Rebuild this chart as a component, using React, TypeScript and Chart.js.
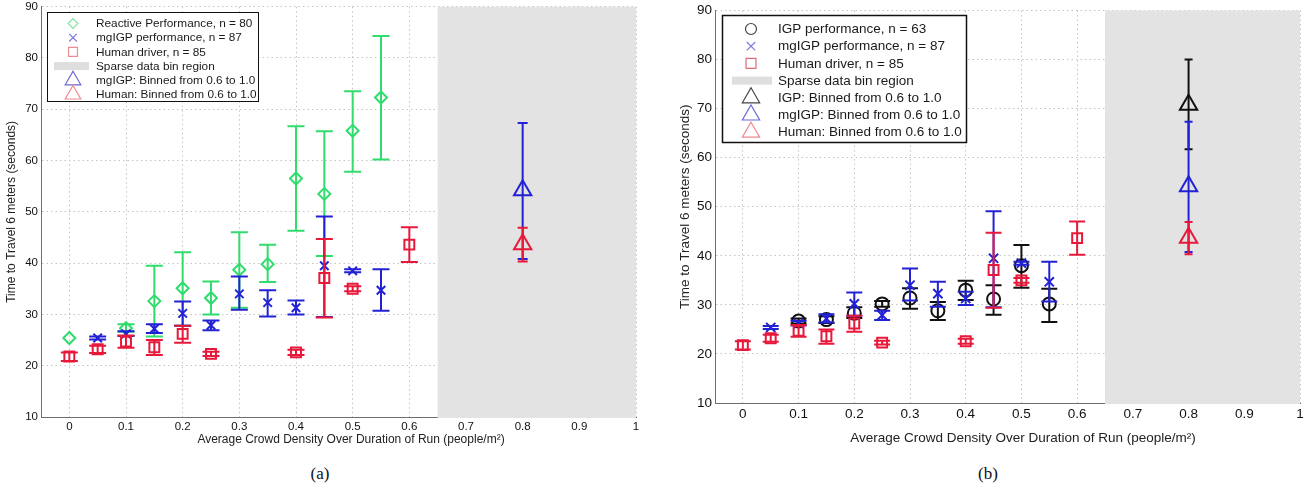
import React, { useEffect, useRef } from "react";
import { Chart, registerables } from "chart.js";

Chart.register(...registerables);

// ---------- axes ----------
const X_TICK_VALUES = [0, 0.1, 0.2, 0.3, 0.4, 0.5, 0.6, 0.7, 0.8, 0.9, 1];
const X_TICK_LABELS = ["0", "0.1", "0.2", "0.3", "0.4", "0.5", "0.6", "0.7", "0.8", "0.9", "1"];
const Y_TICK_VALUES = [10, 20, 30, 40, 50, 60, 70, 80, 90];
const X_MIN = -0.05;
const X_MAX = 1;
const Y_MIN = 10;
const Y_MAX = 90;
const SPARSE_FROM = 0.65;
const SPARSE_TO = 1.0;
const X_TITLE = "Average Crowd Density Over Duration of Run (people/m²)";
const Y_TITLE = "Time to Travel 6 meters (seconds)";

// ---------- data ----------
const REACTIVE_X = [0, 0.1, 0.15, 0.2, 0.25, 0.3, 0.35, 0.4, 0.45, 0.5, 0.55];
const REACTIVE_Y = [25.4, 27.3, 32.6, 35.1, 33.2, 38.7, 39.8, 56.5, 53.5, 65.8, 72.3];
const REACTIVE_LO = [25.4, 26.6, 25.7, 27.8, 30.0, 31.3, 36.3, 46.3, 41.4, 57.8, 60.2];
const REACTIVE_HI = [25.4, 28.1, 39.5, 42.1, 36.4, 46.0, 43.6, 66.7, 65.7, 73.5, 84.3];

const MGIGP_X = [0.05, 0.1, 0.15, 0.2, 0.25, 0.3, 0.35, 0.4, 0.45, 0.5, 0.55];
const MGIGP_Y = [25.4, 26.2, 27.2, 30.2, 27.9, 34.0, 32.3, 31.3, 39.5, 38.5, 34.7];
const MGIGP_LO = [25.1, 25.8, 26.4, 27.8, 26.9, 30.9, 29.6, 30.0, 29.5, 38.2, 30.7];
const MGIGP_HI = [25.7, 26.7, 28.1, 32.5, 28.8, 37.4, 34.7, 32.7, 49.1, 38.8, 38.8];

const HUMAN_X = [0, 0.05, 0.1, 0.15, 0.2, 0.25, 0.4, 0.45, 0.5, 0.6];
const HUMAN_Y = [21.8, 23.2, 24.7, 23.6, 26.2, 22.3, 22.6, 37.1, 35.0, 43.6];
const HUMAN_LO = [20.9, 22.5, 23.5, 22.1, 24.5, 21.9, 22.1, 29.4, 34.5, 40.2];
const HUMAN_HI = [22.6, 23.9, 25.9, 25.0, 27.8, 22.7, 23.1, 44.7, 35.5, 47.0];

const IGP_X = [0.1, 0.15, 0.2, 0.25, 0.3, 0.35, 0.4, 0.45, 0.5, 0.55];
const IGP_Y = [26.7, 27.0, 28.3, 30.2, 31.4, 28.8, 33.0, 31.2, 38.0, 30.2];
const IGP_LO = [26.2, 26.3, 27.3, 29.6, 29.2, 26.9, 31.0, 28.0, 33.5, 26.5];
const IGP_HI = [27.2, 27.7, 29.5, 30.8, 33.4, 30.6, 34.9, 34.0, 42.2, 33.3];

const BIN_X = [0.8];
const MGIGP_BIN_Y = [54.2];
const MGIGP_BIN_LO = [40.8];
const MGIGP_BIN_HI = [67.3];
const HUMAN_BIN_Y = [43.7];
const HUMAN_BIN_LO = [40.3];
const HUMAN_BIN_HI = [46.9];
const IGP_BIN_Y = [70.8];
const IGP_BIN_LO = [61.7];
const IGP_BIN_HI = [80.0];

// ---------- styles ----------
const GREEN = "#2fdc6c";
const BLUE = "#2222d4";
const RED = "#e8183a";
const BLACK = "#111111";
const SPARSE_GRAY = "#e3e3e3";
const FONT = "'Liberation Sans', Arial, Helvetica, sans-serif";

type Series = {
  x: number[]; y: number[]; lo: number[]; hi: number[];
  color: string; marker: string; radius: number; cap: number; order: number;
};
type LegendEntry = { label: string; kind: string; color: string };

type PanelCfg = {
  left: number; width: number; height: number;
  padTop: number; padRight: number;
  yAxisWidth: number; xAxisHeight: number;
  tickSize: number; titleSize: number;
  xTickPad: number; yTickPad: number; yTitlePadTop: number;
  xTitleX: number; xTitleY: number;
  legend: {
    left: number; top: number; width: number; height: number;
    row0: number; step: number; markerX: number; textX: number;
    swatch0: number; swatch1: number; fontSize: number; mScale: number; borderW: number;
  };
  series: Series[];
  entries: LegendEntry[];
};

function drawShape(ctx: CanvasRenderingContext2D, kind: string, x: number, y: number, r: number) {
  ctx.beginPath();
  if (kind === "rectRot") {
    ctx.moveTo(x - r, y); ctx.lineTo(x, y - r); ctx.lineTo(x + r, y); ctx.lineTo(x, y + r); ctx.closePath();
  } else if (kind === "crossRot") {
    const d = r * 0.7071;
    ctx.moveTo(x - d, y - d); ctx.lineTo(x + d, y + d); ctx.moveTo(x + d, y - d); ctx.lineTo(x - d, y + d);
  } else if (kind === "rect") {
    const h = r * 0.7071;
    ctx.rect(x - h, y - h, 2 * h, 2 * h);
  } else if (kind === "circle") {
    ctx.arc(x, y, r, 0, Math.PI * 2);
  } else if (kind === "triangle") {
    ctx.moveTo(x, y - r); ctx.lineTo(x + r * 0.866, y + r * 0.5); ctx.lineTo(x - r * 0.866, y + r * 0.5); ctx.closePath();
  }
  ctx.stroke();
}

const LEGEND_SIZES: Record<string, number> = { rectRot: 5.5, crossRot: 6, rect: 7, circle: 5.5, triangle: 10 };

function Panel({ cfg }: { cfg: PanelCfg }) {
  const ref = useRef<HTMLCanvasElement | null>(null);
  useEffect(() => {
    if (!ref.current) return;
    const series = cfg.series;
    const sparsePlugin = {
      id: "sparse",
      beforeDatasetsDraw(chart: any) {
        const { ctx, chartArea, scales } = chart;
        const x0 = scales.x.getPixelForValue(SPARSE_FROM);
        const x1 = scales.x.getPixelForValue(SPARSE_TO);
        ctx.save();
        ctx.fillStyle = SPARSE_GRAY;
        ctx.fillRect(x0, chartArea.top, x1 - x0, chartArea.bottom - chartArea.top + 1);
        ctx.restore();
      },
    };
    const errPlugin = {
      id: "errbars",
      beforeDatasetDraw(chart: any, args: any) {
        const s = series[args.index];
        if (!s) return;
        const { ctx, scales } = chart;
        ctx.save();
        ctx.strokeStyle = s.color;
        ctx.lineWidth = 2;
        ctx.lineCap = "butt";
        for (let i = 0; i < s.x.length; i++) {
          if (s.hi[i] - s.lo[i] < 0.05) continue;
          const px = scales.x.getPixelForValue(s.x[i]);
          const pl = scales.y.getPixelForValue(s.lo[i]);
          const ph = scales.y.getPixelForValue(s.hi[i]);
          ctx.beginPath();
          ctx.moveTo(px, pl); ctx.lineTo(px, ph);
          ctx.moveTo(px - s.cap, pl); ctx.lineTo(px + s.cap, pl);
          ctx.moveTo(px - s.cap, ph); ctx.lineTo(px + s.cap, ph);
          ctx.stroke();
        }
        ctx.restore();
      },
    };
    const L = cfg.legend;
    const legendPlugin = {
      id: "boxLegend",
      afterDraw(chart: any) {
        const ctx = chart.ctx;
        ctx.save();
        // x-axis title
        ctx.font = `${cfg.titleSize}px ${FONT}`;
        ctx.fillStyle = "#222";
        ctx.textAlign = "center";
        ctx.textBaseline = "middle";
        ctx.fillText(X_TITLE, cfg.xTitleX, cfg.xTitleY);
        // legend box
        ctx.fillStyle = "#ffffff";
        ctx.fillRect(L.left, L.top, L.width, L.height);
        ctx.strokeStyle = "#111";
        ctx.lineWidth = L.borderW;
        ctx.strokeRect(L.left + 0.5, L.top + 0.5, L.width, L.height);
        ctx.font = `${L.fontSize}px ${FONT}`;
        ctx.textBaseline = "middle";
        ctx.textAlign = "left";
        cfg.entries.forEach((e, i) => {
          const y = L.row0 + i * L.step;
          if (e.kind === "swatch") {
            ctx.fillStyle = e.color;
            ctx.fillRect(L.swatch0, y - 4, L.swatch1 - L.swatch0, 8);
          } else {
            ctx.strokeStyle = e.color;
            ctx.lineWidth = 1.2;
            drawShape(ctx, e.kind, L.markerX, y, LEGEND_SIZES[e.kind] * L.mScale);
          }
          ctx.fillStyle = "#1a1a1a";
          ctx.fillText(e.label, L.textX, y + 0.5);
        });
        ctx.restore();
      },
    };

    const tickFont = { family: FONT, size: cfg.tickSize, lineHeight: 1 };
    const titleFont = { family: FONT, size: cfg.titleSize };
    const chart = new Chart(ref.current, {
      type: "scatter",
      data: {
        datasets: series.map((s) => ({
          data: s.x.map((x, i) => ({ x, y: s.y[i] })),
          showLine: false,
          pointStyle: s.marker as any,
          pointRadius: s.radius,
          pointHoverRadius: s.radius,
          pointBorderWidth: 2,
          pointBorderColor: s.color,
          pointBackgroundColor: "rgba(0,0,0,0)",
          order: s.order,
          clip: false,
        })),
      },
      options: {
        animation: false,
        responsive: false,
        devicePixelRatio: 1,
        layout: { autoPadding: false, padding: { left: 0, top: cfg.padTop, right: cfg.padRight, bottom: 0 } },
        plugins: { legend: { display: false }, tooltip: { enabled: false } },
        events: [],
        scales: {
          x: {
            type: "linear",
            min: X_MIN,
            max: X_MAX,
            afterBuildTicks: (sc: any) => { sc.ticks = X_TICK_VALUES.map((v) => ({ value: v })); },
            afterFit: (sc: any) => {
              sc.height = cfg.xAxisHeight;
              sc.paddingLeft = 0; sc.paddingRight = 0; sc.paddingTop = 0; sc.paddingBottom = 0;
            },
            ticks: {
              autoSkip: false, maxRotation: 0, minRotation: 0,
              padding: cfg.xTickPad, color: "#111", font: tickFont,
              callback: (_v: any, i: number) => X_TICK_LABELS[i],
            },
            grid: { color: "#c4c4c4", lineWidth: 1, drawTicks: false },
            border: { display: true, color: "#6e6e6e", width: 1, dash: [1.5, 3] },
            title: { display: false, text: X_TITLE },
          },
          y: {
            type: "linear",
            min: Y_MIN,
            max: Y_MAX,
            afterBuildTicks: (sc: any) => { sc.ticks = Y_TICK_VALUES.map((v) => ({ value: v })); },
            afterFit: (sc: any) => {
              sc.width = cfg.yAxisWidth;
              sc.paddingLeft = 0; sc.paddingRight = 0; sc.paddingTop = 0; sc.paddingBottom = 0;
            },
            ticks: { padding: cfg.yTickPad, color: "#111", font: tickFont },
            grid: { color: "#c4c4c4", lineWidth: 1, drawTicks: false },
            border: { display: true, color: "#6e6e6e", width: 1, dash: [1.5, 3] },
            title: { display: true, text: Y_TITLE, color: "#222", font: titleFont, padding: { top: cfg.yTitlePadTop, bottom: 0 } },
          },
        },
      } as any,
      plugins: [sparsePlugin, errPlugin, legendPlugin],
    });
    return () => chart.destroy();
  }, [cfg]);
  return (
    <canvas
      ref={ref}
      width={cfg.width}
      height={cfg.height}
      style={{ position: "absolute", left: cfg.left, top: 0, width: cfg.width, height: cfg.height }}
    />
  );
}

const PANEL_A: PanelCfg = {
  left: 0, width: 650, height: 452, padTop: 6.7, padRight: 14,
  yAxisWidth: 41, xAxisHeight: 35, tickSize: 11.5, titleSize: 12,
  xTickPad: 4, yTickPad: 3, yTitlePadTop: 4,
  xTitleX: 351, xTitleY: 440,
  legend: { left: 47, top: 12, width: 211, height: 89, row0: 23.5, step: 14.2, markerX: 73, textX: 96, swatch0: 54, swatch1: 89, fontSize: 11.8, mScale: 0.9, borderW: 1 },
  series: [
    { x: REACTIVE_X, y: REACTIVE_Y, lo: REACTIVE_LO, hi: REACTIVE_HI, color: GREEN, marker: "rectRot", radius: 6, cap: 8.5, order: 5 },
    { x: MGIGP_X, y: MGIGP_Y, lo: MGIGP_LO, hi: MGIGP_HI, color: BLUE, marker: "crossRot", radius: 6, cap: 8.5, order: 4 },
    { x: HUMAN_X, y: HUMAN_Y, lo: HUMAN_LO, hi: HUMAN_HI, color: RED, marker: "rect", radius: 7, cap: 8.5, order: 3 },
    { x: BIN_X, y: MGIGP_BIN_Y, lo: MGIGP_BIN_LO, hi: MGIGP_BIN_HI, color: BLUE, marker: "triangle", radius: 10, cap: 5, order: 2 },
    { x: BIN_X, y: HUMAN_BIN_Y, lo: HUMAN_BIN_LO, hi: HUMAN_BIN_HI, color: RED, marker: "triangle", radius: 10, cap: 5, order: 1 },
  ],
  entries: [
    { label: "Reactive Performance, n = 80", kind: "rectRot", color: "#86e6a2" },
    { label: "mgIGP performance, n = 87", kind: "crossRot", color: "#7c7cd8" },
    { label: "Human driver, n = 85", kind: "rect", color: "#ee8a92" },
    { label: "Sparse data bin region", kind: "swatch", color: "#dedede" },
    { label: "mgIGP: Binned from 0.6 to 1.0", kind: "triangle", color: "#6a6ad6" },
    { label: "Human: Binned from 0.6 to 1.0", kind: "triangle", color: "#ee8a92" },
  ],
};

const PANEL_B: PanelCfg = {
  left: 655, width: 652, height: 452, padTop: 10.5, padRight: 7,
  yAxisWidth: 60, xAxisHeight: 49, tickSize: 13.5, titleSize: 13.5,
  xTickPad: 5, yTickPad: 3, yTitlePadTop: 22,
  xTitleX: 368, xTitleY: 438,
  legend: { left: 67, top: 15, width: 244, height: 127, row0: 29, step: 17.2, markerX: 96, textX: 123, swatch0: 77, swatch1: 117, fontSize: 13.5, mScale: 1, borderW: 1.5 },
  series: [
    { x: IGP_X, y: IGP_Y, lo: IGP_LO, hi: IGP_HI, color: BLACK, marker: "circle", radius: 6.5, cap: 8, order: 6 },
    { x: MGIGP_X, y: MGIGP_Y, lo: MGIGP_LO, hi: MGIGP_HI, color: BLUE, marker: "crossRot", radius: 6.5, cap: 8, order: 5 },
    { x: HUMAN_X, y: HUMAN_Y, lo: HUMAN_LO, hi: HUMAN_HI, color: RED, marker: "rect", radius: 7, cap: 8, order: 4 },
    { x: BIN_X, y: IGP_BIN_Y, lo: IGP_BIN_LO, hi: IGP_BIN_HI, color: BLACK, marker: "triangle", radius: 10, cap: 4, order: 3 },
    { x: BIN_X, y: MGIGP_BIN_Y, lo: MGIGP_BIN_LO, hi: MGIGP_BIN_HI, color: BLUE, marker: "triangle", radius: 10, cap: 4, order: 2 },
    { x: BIN_X, y: HUMAN_BIN_Y, lo: HUMAN_BIN_LO, hi: HUMAN_BIN_HI, color: RED, marker: "triangle", radius: 10, cap: 4, order: 1 },
  ],
  entries: [
    { label: "IGP performance, n = 63", kind: "circle", color: "#444444" },
    { label: "mgIGP performance, n = 87", kind: "crossRot", color: "#7c7cd8" },
    { label: "Human driver, n = 85", kind: "rect", color: "#e06a78" },
    { label: "Sparse data bin region", kind: "swatch", color: "#dedede" },
    { label: "IGP: Binned from 0.6 to 1.0", kind: "triangle", color: "#444444" },
    { label: "mgIGP: Binned from 0.6 to 1.0", kind: "triangle", color: "#6a6ad6" },
    { label: "Human: Binned from 0.6 to 1.0", kind: "triangle", color: "#ee8a92" },
  ],
};

const captionStyle = (cx: number): React.CSSProperties => ({
  position: "absolute", left: cx - 30, width: 60, top: 463, lineHeight: "22px",
  textAlign: "center", fontFamily: "'Liberation Serif', 'Times New Roman', serif", fontSize: 17, color: "#111",
});

export default function App() {
  return (
    <div style={{ position: "absolute", left: 0, top: 0, width: 1307, height: 489, background: "#fff", overflow: "hidden" }}>
      <Panel cfg={PANEL_A} />
      <Panel cfg={PANEL_B} />
      <div style={captionStyle(320)}>(a)</div>
      <div style={captionStyle(988)}>(b)</div>
    </div>
  );
}
